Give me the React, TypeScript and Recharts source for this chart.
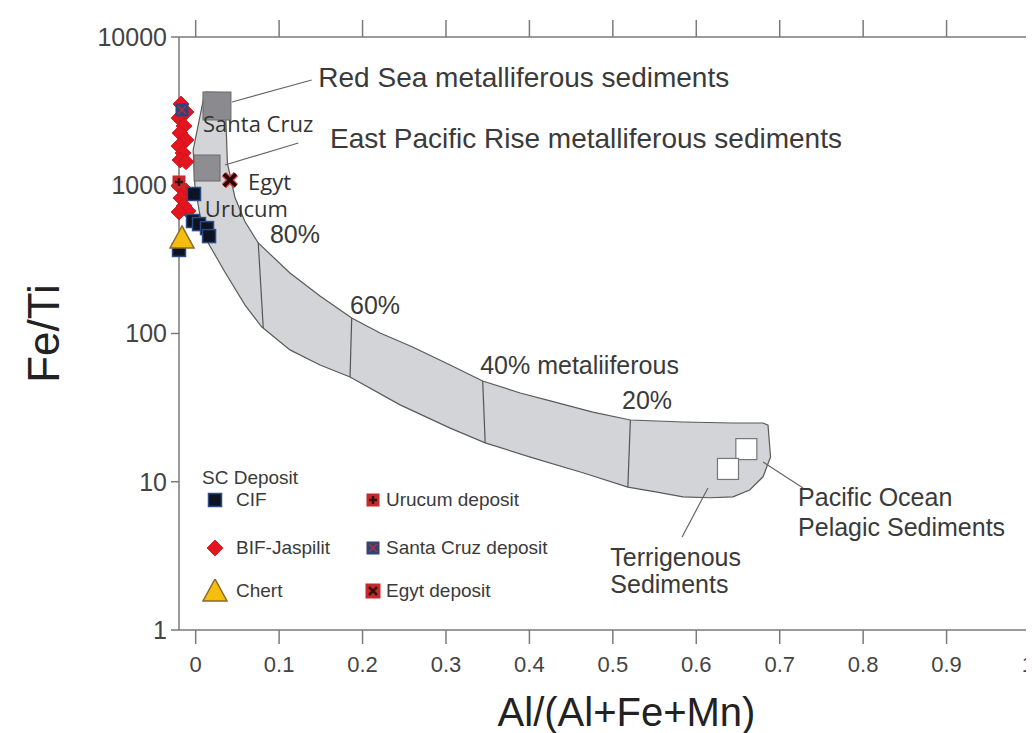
import React from "react";
import { ScatterChart, Scatter, XAxis, YAxis, Legend } from "recharts";

// axis ticks
const xTicks = [0, 0.1, 0.2, 0.3, 0.4, 0.5, 0.6, 0.7, 0.8, 0.9, 1];
const yTicks = [1, 10, 100, 1000, 10000];

// metalliferous field (Boström), upper edge left->right, lower edge right->left
const fieldUpper = [
  { x: 0.011, y: 4250 },
  { x: 0.041, y: 4200 },
  { x: 0.036, y: 2980 },
  { x: 0.038, y: 1410 },
  { x: 0.047, y: 830 },
  { x: 0.059, y: 570 },
  { x: 0.075, y: 408 },
  { x: 0.113, y: 256 },
  { x: 0.149, y: 179 },
  { x: 0.187, y: 127 },
  { x: 0.221, y: 100.8 },
  { x: 0.26, y: 81 },
  { x: 0.305, y: 61.3 },
  { x: 0.344, y: 47.8 },
  { x: 0.389, y: 39.7 },
  { x: 0.425, y: 35.1 },
  { x: 0.476, y: 29.5 },
  { x: 0.521, y: 26.1 },
  { x: 0.584, y: 25.3 },
  { x: 0.644, y: 24.9 },
  { x: 0.68, y: 24.9 },
  { x: 0.686, y: 24.1 },
];
const fieldLower = [
  { x: 0.689, y: 14.7 },
  { x: 0.68, y: 10.8 },
  { x: 0.664, y: 8.8 },
  { x: 0.644, y: 7.9 },
  { x: 0.616, y: 7.8 },
  { x: 0.584, y: 7.9 },
  { x: 0.553, y: 8.5 },
  { x: 0.518, y: 9.2 },
  { x: 0.464, y: 11.5 },
  { x: 0.404, y: 14.5 },
  { x: 0.347, y: 18.3 },
  { x: 0.305, y: 23 },
  { x: 0.245, y: 33 },
  { x: 0.185, y: 50.9 },
  { x: 0.149, y: 61.3 },
  { x: 0.113, y: 77.5 },
  { x: 0.079, y: 111 },
  { x: 0.059, y: 156 },
  { x: 0.035, y: 260 },
  { x: 0.015, y: 408 },
  { x: 0.005, y: 631 },
  { x: -0.001, y: 1000 },
  { x: -0.003, y: 1730 },
];

// 80/60/40/20 % metalliferous dividers
const dividers = [
  [{ x: 0.075, y: 408 }, { x: 0.081, y: 109 }],
  [{ x: 0.187, y: 127 }, { x: 0.185, y: 50.9 }],
  [{ x: 0.344, y: 47.8 }, { x: 0.347, y: 18.3 }],
  [{ x: 0.521, y: 26.1 }, { x: 0.518, y: 9.2 }],
];

// leader lines for the annotations
const leaders = [
  [{ x: 0.0435, y: 3645 }, { x: 0.139, y: 5129 }],
  [{ x: 0.035, y: 1370 }, { x: 0.123, y: 1928 }],
  [{ x: 0.68, y: 13.6 }, { x: 0.728, y: 9.08 }],
  [{ x: 0.614, y: 9.08 }, { x: 0.583, y: 4.24 }],
];

// reference sediments
const redSea = [{ x: 0.0255, y: 3425 }];
const eastPacificRise = [{ x: 0.0136, y: 1307 }];
const pelagic = [
  { x: 0.66, y: 16.6 },
  { x: 0.638, y: 12.2 },
];

// samples
const bif = [
  { x: -0.0176, y: 3530 },
  { x: -0.0116, y: 3120 },
  { x: -0.02, y: 2840 },
  { x: -0.014, y: 2510 },
  { x: -0.0188, y: 2250 },
  { x: -0.0116, y: 2020 },
  { x: -0.02, y: 1840 },
  { x: -0.0152, y: 1650 },
  { x: -0.0188, y: 1480 },
  { x: -0.0116, y: 1440 },
  { x: -0.02, y: 990 },
  { x: -0.0116, y: 915 },
  { x: -0.0176, y: 820 },
  { x: -0.014, y: 725 },
  { x: -0.0092, y: 670 },
  { x: -0.02, y: 660 },
];
const cif = [
  { x: -0.002, y: 873 },
  { x: -0.0032, y: 574 },
  { x: 0.004, y: 547 },
  { x: 0.0136, y: 514 },
  { x: 0.016, y: 454 },
  { x: -0.02, y: 366 },
];
const chert = [{ x: -0.0164, y: 441 }];
const urucum = [{ x: -0.02, y: 1052 }];
const santaCruz = [{ x: -0.0164, y: 3220 }];
const egyt = [{ x: 0.041, y: 1084 }];

// annotations
const bigNotes = [
  { x: 0.147, y: 5290, text: "Red Sea metalliferous sediments" },
  { x: 0.161, y: 2083, text: "East Pacific Rise metalliferous sediments" },
];
const siteNotes = [
  { x: 0.0088, y: 2630, text: "Santa Cruz" },
  { x: 0.0627, y: 1075, text: "Egyt" },
  { x: 0.011, y: 700, text: "Urucum" },
];
const fieldNotes = [
  { x: 0.089, y: 470, text: "80%" },
  { x: 0.185, y: 156, text: "60%" },
  { x: 0.341, y: 61.3, text: "40% metaliiferous" },
  { x: 0.511, y: 35.6, text: "20%" },
  { x: 0.722, y: 7.89, text: "Pacific Ocean" },
  { x: 0.722, y: 4.95, text: "Pelagic Sediments" },
  { x: 0.497, y: 3.11, text: "Terrigenous" },
  { x: 0.497, y: 2.04, text: "Sediments" },
];

const legendItems = [
  { kind: "cif", label: "CIF" },
  { kind: "bif", label: "BIF-Jaspilit" },
  { kind: "chert", label: "Chert" },
  { kind: "urucum", label: "Urucum deposit" },
  { kind: "santaCruz", label: "Santa Cruz deposit" },
  { kind: "egytBox", label: "Egyt deposit" },
];

const AXIS = "#7a7a7a";
const TEXT = "#3a3a3a";

function marker(kind: string, cx: number, cy: number) {
  switch (kind) {
    case "cif": {
      const s = 13;
      return <rect x={cx - s / 2} y={cy - s / 2} width={s} height={s} fill="#0d1322" stroke="#2b4a86" strokeWidth={1.5} />;
    }
    case "bif": {
      const r = 8;
      return (
        <polygon
          points={`${cx},${cy - r} ${cx + r},${cy} ${cx},${cy + r} ${cx - r},${cy}`}
          fill="#e3161f"
          stroke="#c8101a"
          strokeWidth={0.8}
        />
      );
    }
    case "chert":
      return (
        <polygon
          points={`${cx},${cy - 12} ${cx + 12},${cy + 10} ${cx - 12},${cy + 10}`}
          fill="#f6be0c"
          stroke="#8c6a2a"
          strokeWidth={1.5}
        />
      );
    case "urucum": {
      const s = 13;
      return (
        <g>
          <rect x={cx - s / 2} y={cy - s / 2} width={s} height={s} fill="#c7282b" />
          <path d={`M${cx - 4},${cy}H${cx + 4}M${cx},${cy - 4}V${cy + 4}`} stroke="#3a0d0d" strokeWidth={2.5} />
        </g>
      );
    }
    case "santaCruz": {
      const s = 13;
      return (
        <g>
          <rect x={cx - s / 2} y={cy - s / 2} width={s} height={s} fill="#2f4378" />
          <path d={`M${cx - 4},${cy - 4}L${cx + 4},${cy + 4}M${cx + 4},${cy - 4}L${cx - 4},${cy + 4}`} stroke="#b0303a" strokeWidth={1.5} />
        </g>
      );
    }
    case "egyt":
      return (
        <g>
          <path d={`M${cx - 6},${cy - 6}L${cx + 6},${cy + 6}M${cx + 6},${cy - 6}L${cx - 6},${cy + 6}`} stroke="#d23a3a" strokeWidth={6} />
          <path d={`M${cx - 6},${cy - 6}L${cx + 6},${cy + 6}M${cx + 6},${cy - 6}L${cx - 6},${cy + 6}`} stroke="#2a0808" strokeWidth={3.5} />
        </g>
      );
    case "egytBox": {
      const s = 15;
      return (
        <g>
          <rect x={cx - s / 2} y={cy - s / 2} width={s} height={s} fill="#c7282b" />
          <path d={`M${cx - 4},${cy - 4}L${cx + 4},${cy + 4}M${cx + 4},${cy - 4}L${cx - 4},${cy + 4}`} stroke="#3a0d0d" strokeWidth={2.5} />
        </g>
      );
    }
    default:
      return <g />;
  }
}

const noDot = () => <g />;

// bottom tick label; the last one ("1") sits at the frame edge, keep it inside the page
const XTick = (p: any) => {
  const last = p.payload.value === 1;
  return (
    <text
      x={last ? p.x + 4 : p.x}
      y={p.y + 16}
      textAnchor={last ? "end" : "middle"}
      fontSize={22}
      fill="#444"
      fontFamily="Liberation Sans Narrow, Arial Narrow, Liberation Sans, sans-serif"
    >
      {p.payload.value}
    </text>
  );
};

const LegendBox = () => (
  <div style={{ position: "relative", width: 370, height: 150, fontFamily: "Liberation Sans, Arial, sans-serif", fontSize: 19, color: TEXT }}>
    <div style={{ position: "absolute", left: 2, top: 1, lineHeight: "22px" }}>SC Deposit</div>
    {legendItems.map((item, i) => {
      const col = Math.floor(i / 3);
      const row = i % 3;
      const left = col === 0 ? 2 : 160;
      const top = [34, 82, 125][row];
      return (
        <div key={item.kind} style={{ position: "absolute", left, top: top - 12, height: 24, display: "flex", alignItems: "center" }}>
          <svg width={26} height={24}>
            {marker(item.kind, 13, 12)}
          </svg>
          <span style={{ marginLeft: col === 0 ? 8 : 0 }}>{item.label}</span>
        </div>
      );
    })}
  </div>
);

const noteText = (size: number, family: string, color: string) => (p: any) => (
  <text x={p.cx} y={p.cy} dominantBaseline="central" fontSize={size} fill={color} fontFamily={family}>
    {p.payload.text}
  </text>
);

export default function App() {
  const field = [...fieldUpper, ...fieldLower, fieldUpper[0]];
  return (
    <div style={{ position: "relative", width: 1026, height: 725, background: "#fff", fontFamily: "Liberation Sans, Arial, sans-serif" }}>
      <ScatterChart width={1026} height={725} margin={{ top: 9, right: 0, bottom: 3, left: 8 }}>
        <XAxis
          xAxisId={0}
          dataKey="x"
          type="number"
          domain={[-0.02, 1]}
          ticks={xTicks}
          interval={0}
          height={100}
          stroke={AXIS}
          strokeWidth={1.5}
          tickSize={14}
          tickMargin={12}
          tick={XTick}
          label={{ value: "Al/(Al+Fe+Mn)", position: "insideBottom", offset: 4, dx: 22, style: { fontSize: 40, fill: "#222" } }}
        />
        <XAxis
          xAxisId="top"
          orientation="top"
          dataKey="x"
          type="number"
          domain={[-0.02, 1]}
          allowDataOverflow
          ticks={xTicks}
          interval={0}
          height={20}
          stroke={AXIS}
          strokeWidth={1.5}
          tickSize={17}
          tick={noDot}
        />
        <YAxis
          yAxisId={0}
          dataKey="y"
          type="number"
          scale="log"
          domain={[1, 10000]}
          ticks={yTicks}
          interval={0}
          width={163}
          stroke={AXIS}
          strokeWidth={1.5}
          tickSize={8}
          tickMargin={4}
          tick={{ fontSize: 25, fill: "#444" }}
          label={{ value: "Fe/Ti", angle: -90, position: "insideLeft", offset: 27, style: { textAnchor: "middle", fontSize: 44, fill: "#222" } }}
        />
        <YAxis
          yAxisId="right"
          orientation="right"
          dataKey="y"
          type="number"
          scale="log"
          domain={[1, 10000]}
          allowDataOverflow
          ticks={yTicks}
          interval={0}
          width={4}
          stroke={AXIS}
          strokeWidth={1.5}
          tickSize={4}
          tick={noDot}
        />

        <Scatter data={field} shape={noDot} line={{ fill: "#d3d4d8", stroke: "#5a5a5a", strokeWidth: 1.2 }} legendType="none" isAnimationActive={false} />
        {dividers.map((seg, i) => (
          <Scatter key={`div${i}`} data={seg} shape={noDot} line={{ stroke: "#555", strokeWidth: 1.2 }} legendType="none" isAnimationActive={false} />
        ))}
        {leaders.map((seg, i) => (
          <Scatter key={`lead${i}`} data={seg} shape={noDot} line={{ stroke: "#666", strokeWidth: 1.2 }} legendType="none" isAnimationActive={false} />
        ))}

        <Scatter data={redSea} legendType="none" isAnimationActive={false}
          shape={(p: any) => <rect x={p.cx - 14} y={p.cy - 14} width={28} height={28} fill="#8b8b8f" stroke="#6a6a6a" strokeWidth={1} />} />
        <Scatter data={eastPacificRise} legendType="none" isAnimationActive={false}
          shape={(p: any) => <rect x={p.cx - 13} y={p.cy - 13} width={26} height={26} fill="#8e8e92" stroke="#6a6a6a" strokeWidth={1} />} />
        <Scatter data={pelagic} legendType="none" isAnimationActive={false}
          shape={(p: any) => <rect x={p.cx - 10.5} y={p.cy - 10.5} width={21} height={21} fill="#fff" stroke="#777" strokeWidth={1.2} />} />

        <Scatter data={bif} legendType="none" isAnimationActive={false} shape={(p: any) => marker("bif", p.cx, p.cy)} />
        <Scatter data={cif} legendType="none" isAnimationActive={false} shape={(p: any) => marker("cif", p.cx, p.cy)} />
        <Scatter data={chert} legendType="none" isAnimationActive={false} shape={(p: any) => marker("chert", p.cx, p.cy)} />
        <Scatter data={urucum} legendType="none" isAnimationActive={false} shape={(p: any) => marker("urucum", p.cx, p.cy)} />
        <Scatter data={santaCruz} legendType="none" isAnimationActive={false} shape={(p: any) => marker("santaCruz", p.cx, p.cy)} />
        <Scatter data={egyt} legendType="none" isAnimationActive={false} shape={(p: any) => marker("egyt", p.cx, p.cy)} />

        <Scatter data={bigNotes} legendType="none" isAnimationActive={false} shape={noteText(28, "Liberation Sans, Arial, sans-serif", TEXT)} />
        <Scatter data={fieldNotes} legendType="none" isAnimationActive={false} shape={noteText(25, "Liberation Sans, Arial, sans-serif", TEXT)} />
        <Scatter data={siteNotes} legendType="none" isAnimationActive={false} shape={noteText(22, "Open Sans, Noto Sans, sans-serif", "#333")} />

        <Legend
          layout="horizontal"
          verticalAlign="middle"
          align="center"
          wrapperStyle={{ left: 192, top: 458, width: 370, height: 150 }}
          content={() => <LegendBox />}
        />
      </ScatterChart>
    </div>
  );
}
